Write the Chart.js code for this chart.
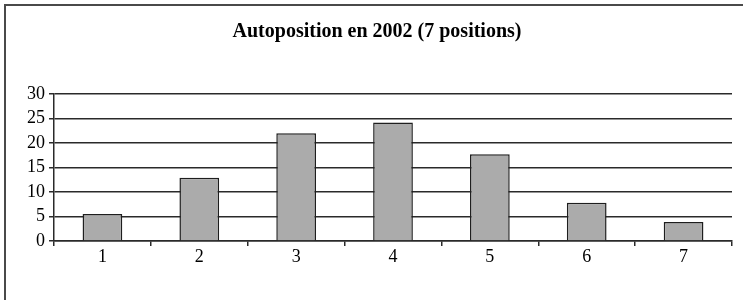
<!DOCTYPE html>
<html>
<head>
<meta charset="utf-8">
<script src="https://cdn.jsdelivr.net/npm/chart.js@4/dist/chart.umd.min.js"></script>
<style>
  html, body { margin: 0; padding: 0; background: #fff; }
  #wrap { position: relative; width: 743px; height: 300px; overflow: hidden; }
  #frame { position: absolute; left: 4px; top: 4px; width: 760px; height: 320px;
           border-top: 2px solid #4a4a4a; border-left: 2px solid #4a4a4a; pointer-events: none; }
  canvas { position: absolute; left: 0; top: 0; }
</style>
</head>
<body>
<div id="wrap">
  <canvas id="c" width="743" height="300"></canvas>
  <div id="frame"></div>
</div>
<script>
const titleText = "Autoposition en 2002 (7 positions)";
const categories = ["1", "2", "3", "4", "5", "6", "7"];
const values = [5.5, 12.9, 22, 24.2, 17.7, 7.8, 3.9];
const yTicks = [0, 5, 10, 15, 20, 25, 30];

const FONT = '"Liberation Serif", "Times New Roman", serif';
const DARK = '#2a2a2a';

new Chart(document.getElementById('c'), {
  type: 'bar',
  data: {
    labels: categories,
    datasets: [{
      data: values,
      backgroundColor: '#ababab',
      borderColor: '#1e1e1e',
      borderWidth: 1.5,
      categoryPercentage: 1,
      barPercentage: 0.41
    }]
  },
  options: {
    responsive: false,
    animation: false,
    devicePixelRatio: 1,
    layout: { padding: { left: 22, right: 11, top: 0, bottom: 0 } },
    plugins: {
      legend: { display: false },
      tooltip: { enabled: false },
      title: {
        display: true,
        text: titleText,
        color: '#000',
        font: { family: FONT, size: 20, weight: 'bold' },
        padding: { top: 20, bottom: 50 }
      }
    },
    scales: {
      x: {
        offset: true,
        grid: {
          offset: true,
          drawOnChartArea: true,
          color: (ctx) => (ctx.index === categories.length ? DARK : 'rgba(0,0,0,0)'),
          lineWidth: 1.5,
          tickColor: DARK,
          tickLength: 5
        },
        border: { color: DARK, width: 1.5 },
        ticks: { color: '#000', font: { family: FONT, size: 18 }, padding: 0 },
        afterFit: (s) => { s.height = 59; }
      },
      y: {
        min: 0,
        max: 30,
        afterBuildTicks: (s) => { s.ticks = yTicks.map(v => ({ value: v })); },
        grid: { color: DARK, lineWidth: 1.5, tickColor: DARK, tickLength: 5 },
        border: { color: DARK, width: 1.5 },
        ticks: { color: '#000', font: { family: FONT, size: 18 }, padding: 4, autoSkip: false },
        afterFit: (s) => { s.width = 32; }
      }
    }
  }
});
</script>
</body>
</html>
